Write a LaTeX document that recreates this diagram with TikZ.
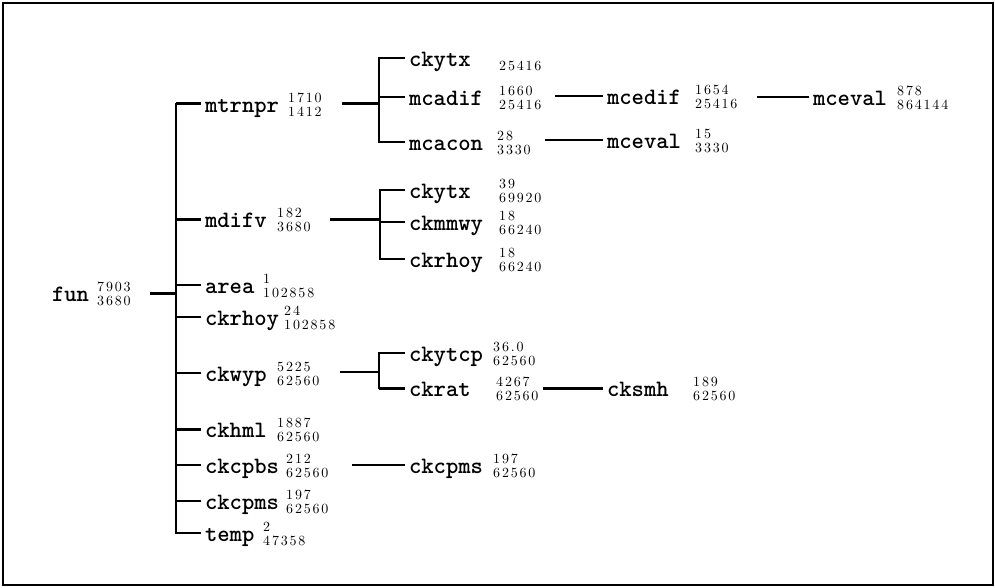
\documentclass[tikz,border=0pt]{standalone}
\usepackage{fontspec}
\newfontfamily\numfont[LetterSpace=13]{lmroman10-regular.otf}
\newcommand\nstk[2]{{\numfont\fontsize{14}{14}\selectfont\ooalign{\raisebox{10pt}{#1}\cr\raisebox{-4pt}{#2}\cr}}}
\tikzset{
  nm/.style={anchor=west, inner sep=0pt, outer xsep=4pt, outer ysep=0pt,
    text height=19pt, text depth=2pt,
    font=\fontsize{23.5}{24}\selectfont\ttfamily\bfseries},
  nums/.style={anchor=base west, inner sep=0pt},
  lnthin/.style={line width=1.5pt},
  lnmid/.style={line width=2.2pt},
  lnthick/.style={line width=3pt},
  trunk/.style={line width=2.2pt, line cap=rect},
}
% \entry{name}{text x}{line y}{label}{numbers x}{upper}{lower}
\newcommand\entry[7]{%
  \node[nm] (#1) at (#2-4,#3) {#4};
  \node[nums] (#1-n) at (#5,#3+8.5) {\nstk{#6}{#7}};}
\begin{document}
\begin{tikzpicture}[x=1pt,y=-1pt]
\useasboundingbox (0,0) rectangle (995,588);
\draw[line width=2pt] (3,3) rectangle (993,585);

% level 0
\entry{fun}{52}{293}{fun}{97}{7903}{3680}
% level 1
\entry{mtrnpr}{205}{104}{mtrnpr}{288}{1710}{1412}
\entry{mdifv}{205}{219}{mdifv}{277}{182}{3680}
\entry{area}{205}{285}{area}{263}{1}{102858}
\entry{ckrhoy}{205}{317}{ckrhoy}{284}{24}{102858}
\entry{ckwyp}{205}{373}{ckwyp}{277}{5225}{62560}
\entry{ckhml}{205}{429}{ckhml}{277}{1887}{62560}
\entry{ckcpbs}{205}{465}{ckcpbs}{286}{212}{62560}
\entry{ckcpms}{205}{501}{ckcpms}{286}{197}{62560}
\entry{temp}{205}{533}{temp}{263}{2}{47358}
% level 2
\entry{ckytxa}{409}{58}{ckytx}{499}{}{25416}
\entry{mcadif}{409}{97}{mcadif}{499}{1660}{25416}
\entry{mcacon}{409}{142}{mcacon}{497}{28}{3330}
\entry{ckytxb}{409}{190}{ckytx}{499}{39}{69920}
\entry{ckmmwy}{409}{222}{ckmmwy}{499}{18}{66240}
\entry{ckrhoyb}{409}{259}{ckrhoy}{499}{18}{66240}
\entry{ckytcp}{409}{353}{ckytcp}{493}{36.0}{62560}
\entry{ckrat}{409}{388}{ckrat}{496}{4267}{62560}
\entry{ckcpmsb}{409}{465}{ckcpms}{493}{197}{62560}
% level 3
\entry{mcedif}{607}{96}{mcedif}{695}{1654}{25416}
\entry{mcevalb}{607}{140}{mceval}{695}{15}{3330}
\entry{cksmh}{607}{388}{cksmh}{693}{189}{62560}
% level 4
\entry{mcevala}{813}{97}{mceval}{897}{878}{864144}

% trunk 1
\coordinate (fun-o) at (150,293);
\coordinate (t1) at (176,293);
\draw[lnthick] (fun-o) -- (t1);
\draw[trunk] (t1 |- mtrnpr.west) -- (t1 |- temp.west);
\draw[lnthick] (t1 |- mtrnpr.west) -- (mtrnpr.west);
\draw[lnthick] (t1 |- mdifv.west) -- (mdifv.west);
\draw[lnthin] (t1 |- area.west) -- (area.west);
\draw[lnthin] (t1 |- ckrhoy.west) -- (ckrhoy.west);
\draw[lnthin] (t1 |- ckwyp.west) -- (ckwyp.west);
\draw[lnthick] (t1 |- ckhml.west) -- (ckhml.west);
\draw[lnthin] (t1 |- ckcpbs.west) -- (ckcpbs.west);
\draw[lnthin] (t1 |- ckcpms.west) -- (ckcpms.west);
\draw[lnthin] (t1 |- temp.west) -- (temp.west);

% trunk 2 (mtrnpr)
\coordinate (mtrnpr-o) at (342,104);
\coordinate (t2) at (379,104);
\draw[lnthick] (mtrnpr-o) -- (t2);
\draw[trunk] (t2 |- ckytxa.west) -- (t2 |- mcacon.west);
\draw[lnmid] (t2 |- ckytxa.west) -- (ckytxa.west);
\draw[lnmid] (t2 |- mcadif.west) -- (mcadif.west);
\draw[lnmid] (t2 |- mcacon.west) -- (mcacon.west);
\coordinate (mcadif-o) at (555,96);
\draw[lnthin] (mcadif-o) -- (mcedif.west);
\coordinate (mcedif-o) at (757,97);
\draw[lnthin] (mcedif-o) -- (mcevala.west);
\coordinate (mcacon-o) at (545,140);
\draw[lnthin] (mcacon-o) -- (mcevalb.west);

% trunk 3 (mdifv)
\coordinate (mdifv-o) at (330,219);
\coordinate (t3) at (380,219);
\draw[lnthick] (mdifv-o) -- (t3);
\draw[trunk] (t3 |- ckytxb.west) -- (t3 |- ckrhoyb.west);
\draw[lnmid] (t3 |- ckytxb.west) -- (ckytxb.west);
\draw[lnmid] (t3 |- ckmmwy.west) -- (ckmmwy.west);
\draw[lnmid] (t3 |- ckrhoyb.west) -- (ckrhoyb.west);

% trunk 4 (ckwyp)
\coordinate (ckwyp-o) at (340,372);
\coordinate (t4) at (379,372);
\draw[lnthin] (ckwyp-o) -- (t4);
\draw[trunk] (t4 |- ckytcp.west) -- (t4 |- ckrat.west);
\draw[lnmid] (t4 |- ckytcp.west) -- (ckytcp.west);
\draw[lnthick] (t4 |- ckrat.west) -- (ckrat.west);
\coordinate (ckrat-o) at (543,388);
\draw[lnthick] (ckrat-o) -- (cksmh.west);

% ckcpbs
\coordinate (ckcpbs-o) at (352,465);
\draw[lnthin] (ckcpbs-o) -- (ckcpmsb.west);
\end{tikzpicture}
\end{document}
